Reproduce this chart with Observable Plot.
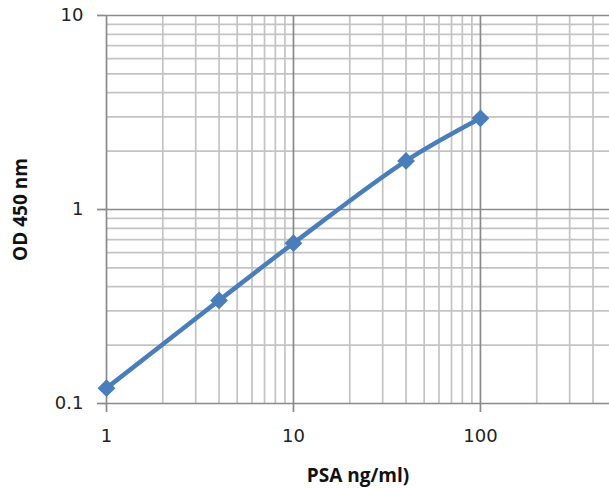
<!DOCTYPE html>
<html>
<head>
<meta charset="utf-8">
<script src="https://cdn.jsdelivr.net/npm/d3@7"></script>
<script src="https://cdn.jsdelivr.net/npm/@observablehq/plot@0.6"></script>
<style>
  html, body { margin: 0; padding: 0; background: #fff; overflow: hidden; }
  #chart svg { display: block; }
</style>
</head>
<body>
<div id="chart"></div>
<script>
// Data
const psa = [1, 4, 10, 40, 100];
const od = [0.12, 0.34, 0.67, 1.78, 2.95];

// Tick labels / gridline positions
const xMajor = [1, 10, 100];
const xMinor = [2, 3, 4, 5, 6, 7, 8, 9, 20, 30, 40, 50, 60, 70, 80, 90, 200, 300, 400];
const yMajor = [0.1, 1, 10];
const yMinor = [0.2, 0.3, 0.4, 0.5, 0.6, 0.7, 0.8, 0.9, 2, 3, 4, 5, 6, 7, 8, 9];
const xTitle = "PSA ng/ml)";
const yTitle = "OD 450 nm";

const data = psa.map((x, i) => ({x, y: od[i]}));

const minorColor = "#c3c3c3";
const majorColor = "#8a8a8a";
const blue = "#4a7ebb";

const chart = Plot.plot({
  width: 609,
  height: 488,
  marginLeft: 106,
  marginRight: 0,
  marginTop: 15,
  marginBottom: 85,
  x: {type: "log", domain: [1, 490]},
  y: {type: "log", domain: [0.1, 10]},
  style: {fontFamily: "DejaVu Sans", fontSize: "18px", color: "#222", background: "#fff"},
  marks: [
    Plot.ruleX(xMinor, {stroke: minorColor, strokeWidth: 1.7}),
    Plot.ruleY(yMinor, {stroke: minorColor, strokeWidth: 1.7}),
    Plot.ruleX(xMajor, {stroke: majorColor, strokeWidth: 1.7}),
    Plot.ruleY(yMajor, {stroke: majorColor, strokeWidth: 1.7}),
    Plot.axisX({ticks: xMajor, tickFormat: d => String(d), tickSize: 9, tickPadding: 17, stroke: majorColor, strokeWidth: 1.7, label: null, fontSize: 18}),
    Plot.axisY({ticks: yMajor, tickFormat: d => String(d), tickSize: 9, tickPadding: 14, stroke: majorColor, strokeWidth: 1.7, label: null, fontSize: 18}),
    Plot.line(data, {x: "x", y: "y", stroke: blue, strokeWidth: 4.5, curve: "catmull-rom"}),
    Plot.dot(data, {x: "x", y: "y", symbol: "diamond2", r: 8, fill: blue, stroke: null}),
    Plot.text([yTitle], {frameAnchor: "left", dx: -86, rotate: -90, textAnchor: "middle", lineAnchor: "middle", fontWeight: "bold", fontSize: 19, fontFamily: "Open Sans", fill: "#111"}),
    Plot.text([xTitle], {frameAnchor: "bottom", dy: 72, textAnchor: "middle", lineAnchor: "middle", fontWeight: "bold", fontSize: 19, fontFamily: "Open Sans", fill: "#111"})
  ]
});
document.getElementById("chart").appendChild(chart);
</script>
</body>
</html>
